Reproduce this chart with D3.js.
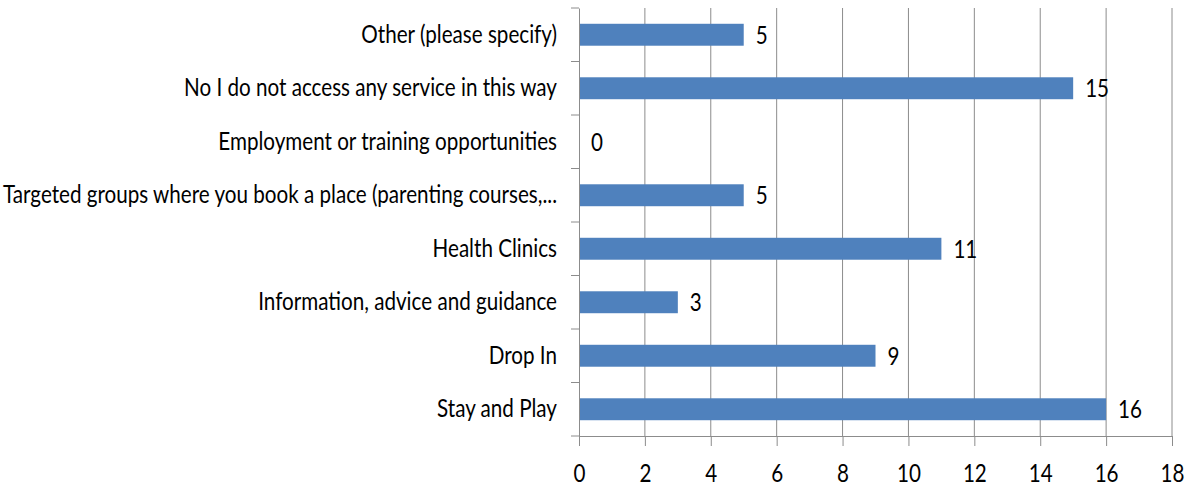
<!DOCTYPE html>
<html>
<head>
<meta charset="utf-8">
<script src="https://cdn.jsdelivr.net/npm/d3@7"></script>
<style>
  body { margin: 0; background: #fff; }
  text { font-family: Lato, "Open Sans", sans-serif; fill: #000; }
</style>
</head>
<body>
<svg id="chart" width="1194" height="492"></svg>
<script>
// categories top to bottom
var categories = [
	'Other (please specify)',
	'No I do not access any service in this way',
	'Employment or training opportunities',
	'Targeted groups where you book a place (parenting courses,...',
	'Health Clinics',
	'Information, advice and guidance',
	'Drop In',
	'Stay and Play'
];
var values = [5, 15, 0, 5, 11, 3, 9, 16];
var xTicks = [0, 2, 4, 6, 8, 10, 12, 14, 16, 18];

var margin = {top: 8, left: 579, right: 22, bottom: 56};
var svg = d3.select('#chart');
var width = 1194 - margin.left - margin.right;
var height = 492 - margin.top - margin.bottom;
var fontSize = '25px';

var g = svg.append('g').attr('transform', 'translate(' + margin.left + ',' + margin.top + ')');

var x = d3.scaleLinear().domain([0, 18]).range([0, width]);
var y = d3.scaleBand().domain(categories).range([0, height]).paddingInner(0.59).paddingOuter(0.295);
var yb = d3.scaleBand().domain(categories).range([0, height]);

// gridlines
g.selectAll('.grid')
	.data(xTicks.slice(1))
	.enter().append('line')
	.attr('class', 'grid')
	.attr('x1', function(d) { return x(d); })
	.attr('x2', function(d) { return x(d); })
	.attr('y1', 0)
	.attr('y2', height)
	.attr('stroke', '#8c8c8c')
	.attr('stroke-width', 1);

// bars
g.selectAll('.bar')
	.data(values)
	.enter().append('rect')
	.attr('class', 'bar')
	.attr('x', 0)
	.attr('y', function(d, i) { return y(categories[i]); })
	.attr('width', function(d) { return x(d); })
	.attr('height', y.bandwidth())
	.attr('fill', '#4f81bd');

// value labels
g.selectAll('.val')
	.data(values)
	.enter().append('text')
	.attr('class', 'val')
	.attr('x', function(d) { return x(d) + 12; })
	.attr('y', function(d, i) { return y(categories[i]) + y.bandwidth() / 2; })
	.attr('dy', '0.35em')
	.style('font-size', fontSize)
	.text(function(d) { return d; });

// y axis
var yAxis = g.append('g').call(d3.axisLeft(yb).tickSize(0).tickPadding(22));
yAxis.selectAll('text').style('font-size', fontSize).attr('fill', '#000');
yAxis.select('.domain').attr('stroke', '#8c8c8c');
// tick marks between categories
g.selectAll('.ytick')
	.data(d3.range(categories.length + 1))
	.enter().append('line')
	.attr('x1', -8).attr('x2', 0)
	.attr('y1', function(d) { return yb.step() * d; })
	.attr('y2', function(d) { return yb.step() * d; })
	.attr('stroke', '#8c8c8c');

// x axis
var xAxis = g.append('g')
	.attr('transform', 'translate(0,' + height + ')')
	.call(d3.axisBottom(x).tickValues(xTicks).tickSize(10).tickPadding(18).tickSizeOuter(0));
xAxis.selectAll('text').style('font-size', fontSize).attr('fill', '#000');
xAxis.selectAll('line').attr('stroke', '#8c8c8c');
xAxis.select('.domain').attr('stroke', '#8c8c8c');

// squeeze text horizontally to mimic the narrow font of the original
var longest = yAxis.selectAll('text').filter(function(d) { return d === categories[3]; }).node();
var k = 554 / longest.getComputedTextLength();
svg.selectAll('text').each(function() {
	var len = this.getComputedTextLength();
	d3.select(this).attr('textLength', len * k).attr('lengthAdjust', 'spacingAndGlyphs');
});
</script>
</body>
</html>
